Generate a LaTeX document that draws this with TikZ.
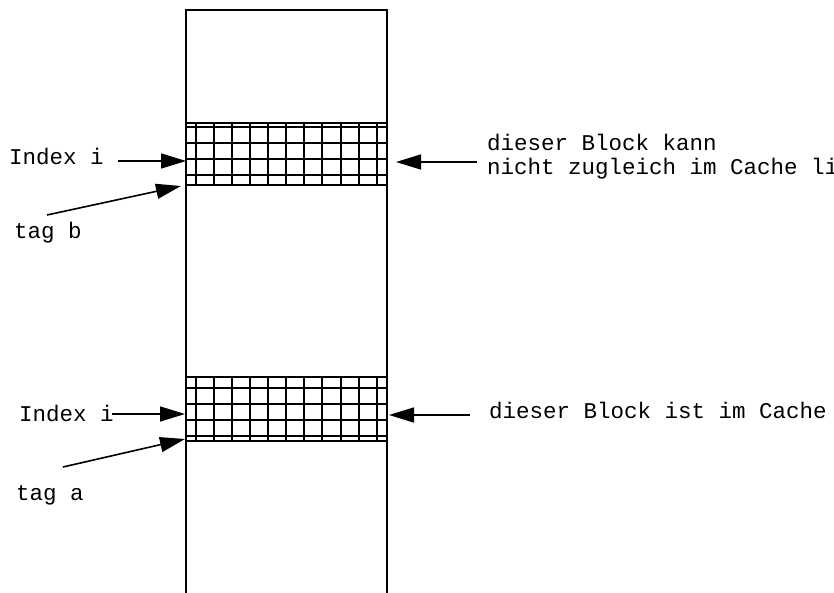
\documentclass[tikz,border=0pt]{standalone}
\usepackage{fontspec}
\setmonofont{Liberation Mono}
\usetikzlibrary{arrows.meta}
\tikzset{
  lbl/.style={inner sep=0pt, anchor=base west, font=\ttfamily\fontsize{22.5}{24}\selectfont},
  col/.style={line width=1.5pt, black},
  gridline/.style={line width=2pt, black},
  ptr/.style={line width=1.6pt, -{Triangle[length=25pt,width=15pt]}}
}
\begin{document}
\begin{tikzpicture}[x=1pt,y=-1pt]
  \useasboundingbox (0,0) rectangle (834,593);
  % memory column, open at the bottom
  \draw[col] (186,600) -- (186,10) -- (387,10) -- (387,600);
  % upper mapped block
  \draw[gridline] (186,123) rectangle (387,185);
  \foreach \y in {127,143,159,175} \draw[gridline] (186,\y) -- (387,\y);
  \foreach \k in {0,...,10} \draw[gridline] ({196+18.07*\k},123) -- ({196+18.07*\k},185);
  % lower mapped block
  \draw[gridline] (186,377) rectangle (387,441);
  \foreach \y in {388,404,420,436} \draw[gridline] (186,\y) -- (387,\y);
  \foreach \k in {0,...,10} \draw[gridline] ({196+18.07*\k},377) -- ({196+18.07*\k},441);

  % labels
  \node[lbl] (idxb) at (9,165) {Index i};
  \node[lbl] (tagb) at (14,239) {tag b};
  \node[lbl] (noteb1) at (487,151) {dieser Block kann};
  \node[lbl] (noteb2) at (487,175) {nicht zugleich im Cache li};
  \node[lbl] (idxa) at (19,421) {Index i};
  \node[lbl] (taga) at (16,500) {tag a};
  \node[lbl] (notea) at (489,418) {dieser Block ist im Cache};

  % arrow end points
  \coordinate (idxbS) at (118,161);
  \coordinate (idxbT) at (186,161);
  \coordinate (tagbS) at (47,215);
  \coordinate (tagbT) at (181,186);
  \coordinate (notebS) at (477,162);
  \coordinate (notebT) at (396,162);
  \coordinate (idxaS) at (112,414);
  \coordinate (idxaT) at (185,414);
  \coordinate (tagaS) at (63,467);
  \coordinate (tagaT) at (185,439);
  \coordinate (noteaS) at (470,415);
  \coordinate (noteaT) at (389,415);

  \draw[ptr] (idxbS) -- (idxbT);
  \draw[ptr] (tagbS) -- (tagbT);
  \draw[ptr] (notebS) -- (notebT);
  \draw[ptr] (idxaS) -- (idxaT);
  \draw[ptr] (tagaS) -- (tagaT);
  \draw[ptr] (noteaS) -- (noteaT);
\end{tikzpicture}
\end{document}
